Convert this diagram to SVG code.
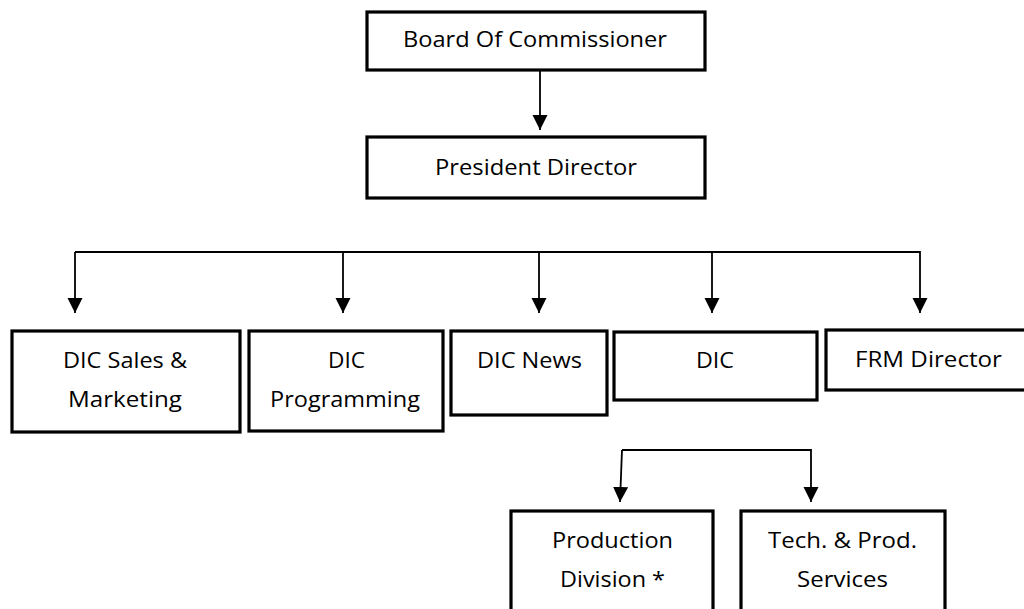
<svg xmlns="http://www.w3.org/2000/svg" width="1024" height="609" viewBox="0 0 1024 609">
  <defs>
    <marker id="arrow" markerUnits="userSpaceOnUse" markerWidth="16" markerHeight="16" viewBox="0 0 16 16" refX="15" refY="7.5" orient="auto">
      <path d="M0,0 L15,7.5 L0,15 Z" fill="#000"/>
    </marker>
    <style>
      .box { fill: #fff; stroke: #000; stroke-width: 3.2; }
      .lbl { font-family: "Open Sans", "Noto Sans", "Liberation Sans", sans-serif; font-size: 22px; fill: #000; }
      .conn { fill: none; stroke: #000; stroke-width: 1.8; }
    </style>
  </defs>
  <rect width="1024" height="609" fill="#fff"/>

  <!-- connectors -->
  <g id="connectors">
    <line class="conn" x1="540" y1="70" x2="540" y2="130" marker-end="url(#arrow)"/>
    <polyline class="conn" points="75,252 920,252 920,313" marker-end="url(#arrow)"/>
    <line class="conn" x1="75" y1="252" x2="75" y2="313" marker-end="url(#arrow)"/>
    <line class="conn" x1="343" y1="252" x2="343" y2="313" marker-end="url(#arrow)"/>
    <line class="conn" x1="539" y1="252" x2="539" y2="313" marker-end="url(#arrow)"/>
    <line class="conn" x1="712" y1="252" x2="712" y2="313" marker-end="url(#arrow)"/>
    <polyline class="conn" points="622,450 811,450 811,502" marker-end="url(#arrow)"/>
    <line class="conn" x1="622" y1="450" x2="620" y2="502" marker-end="url(#arrow)"/>
  </g>

  <g id="board">
    <rect class="box" x="367" y="12" width="338" height="58"/>
    <text class="lbl" x="403" y="47" textLength="264" lengthAdjust="spacingAndGlyphs">Board Of Commissioner</text>
  </g>

  <g id="president">
    <rect class="box" x="367" y="137" width="338" height="61"/>
    <text class="lbl" x="435" y="175" textLength="202" lengthAdjust="spacingAndGlyphs">President Director</text>
  </g>

  <g id="dic-sales">
    <rect class="box" x="12" y="331" width="228" height="101"/>
    <text class="lbl" x="63" y="368" textLength="124" lengthAdjust="spacingAndGlyphs">DIC Sales &amp;</text>
    <text class="lbl" x="68" y="407" textLength="114" lengthAdjust="spacingAndGlyphs">Marketing</text>
  </g>

  <g id="dic-programming">
    <rect class="box" x="249" y="331" width="194" height="100"/>
    <text class="lbl" x="328" y="368" textLength="37" lengthAdjust="spacingAndGlyphs">DIC</text>
    <text class="lbl" x="270" y="407" textLength="150" lengthAdjust="spacingAndGlyphs">Programming</text>
  </g>

  <g id="dic-news">
    <rect class="box" x="451" y="331" width="156" height="84"/>
    <text class="lbl" x="477" y="368" textLength="105" lengthAdjust="spacingAndGlyphs">DIC News</text>
  </g>

  <g id="dic">
    <rect class="box" x="614" y="332" width="203" height="68"/>
    <text class="lbl" x="696" y="368" textLength="38" lengthAdjust="spacingAndGlyphs">DIC</text>
  </g>

  <g id="frm-director">
    <rect class="box" x="826" y="330" width="202" height="60"/>
    <text class="lbl" x="855" y="367" textLength="147" lengthAdjust="spacingAndGlyphs">FRM Director</text>
  </g>

  <g id="production-division">
    <rect class="box" x="511" y="511" width="202" height="110"/>
    <text class="lbl" x="552" y="548" textLength="121" lengthAdjust="spacingAndGlyphs">Production</text>
    <text class="lbl" x="560" y="587" textLength="105" lengthAdjust="spacingAndGlyphs">Division *</text>
  </g>

  <g id="tech-prod-services">
    <rect class="box" x="741" y="511" width="204" height="110"/>
    <text class="lbl" x="768" y="548" textLength="149" lengthAdjust="spacingAndGlyphs">Tech. &amp; Prod.</text>
    <text class="lbl" x="797" y="587" textLength="91" lengthAdjust="spacingAndGlyphs">Services</text>
  </g>
</svg>
